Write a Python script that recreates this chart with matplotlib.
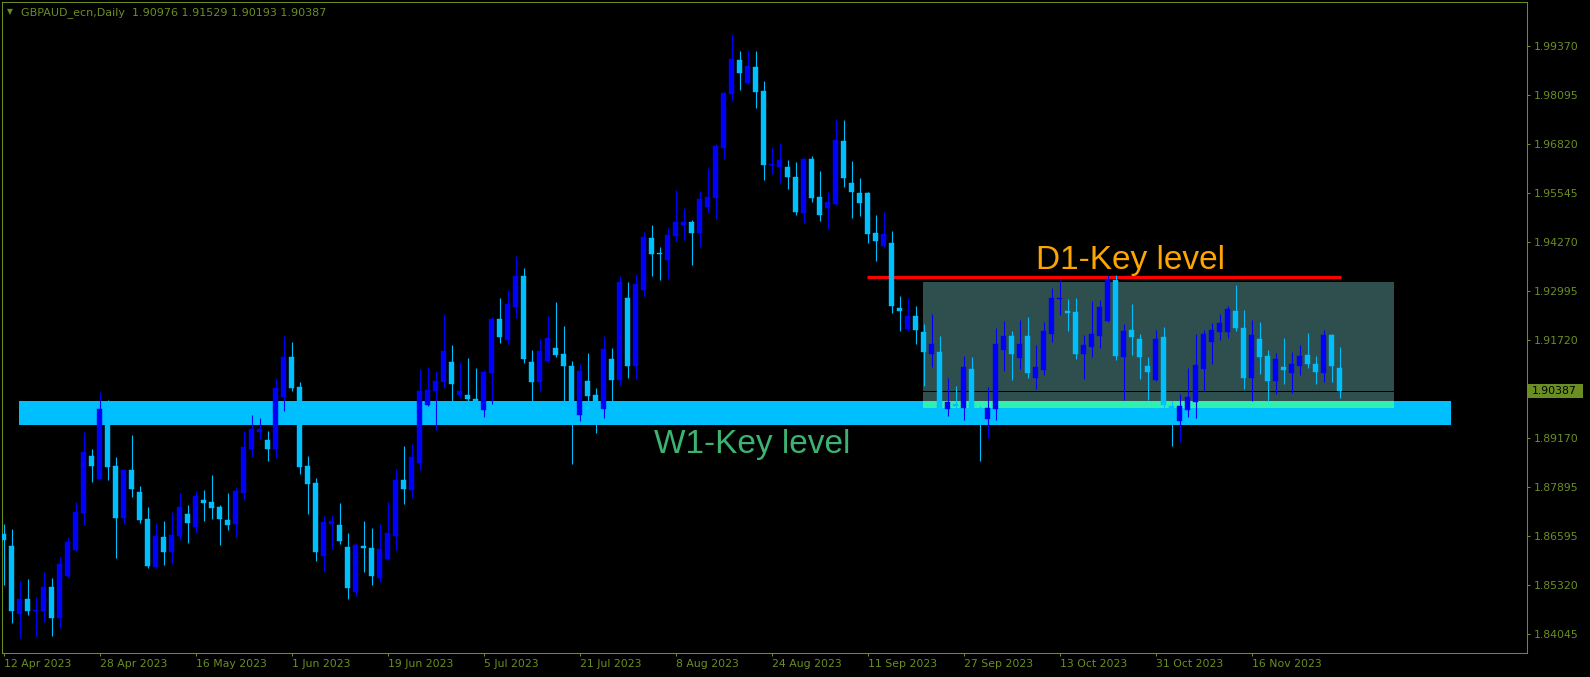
import matplotlib
matplotlib.use("Agg")
import matplotlib.pyplot as plt
from matplotlib.patches import Rectangle
import numpy as np

# ---------------- data (GBPAUD daily, 12 Apr 2023 .. 1 Dec 2023) ----------------
opens = [1.86659, 1.86346, 1.84574, 1.84965, 1.84653, 1.84653, 1.85278, 1.84470, 1.85565, 1.86242,
         1.87206, 1.88692, 1.88092, 1.89838, 1.88431, 1.87076, 1.88327, 1.87754, 1.87050, 1.85799,
         1.86581, 1.86190, 1.86607, 1.87180, 1.86841, 1.87545, 1.87493, 1.87363, 1.87024, 1.86920,
         1.87727, 1.88874, 1.89317, 1.89109, 1.88874, 1.90229, 1.91271, 1.90490, 1.88431, 1.87988,
         1.86086, 1.86920, 1.86894, 1.86320, 1.85148, 1.86346, 1.86294, 1.85513, 1.86008, 1.86607,
         1.88066, 1.87806, 1.88509, 1.90021, 1.90385, 1.90620, 1.91141, 1.90281, 1.90281, 1.90177,
         1.89890, 1.90854, 1.92262, 1.91714, 1.92574, 1.93382, 1.91141, 1.90620, 1.91167, 1.91506,
         1.91350, 1.91037, 1.89760, 1.90646, 1.90281, 1.89916, 1.91219, 1.90672, 1.92809, 1.91037,
         1.93017, 1.94372, 1.93981, 1.93799, 1.94424, 1.94711, 1.94789, 1.94503, 1.95180, 1.95415,
         1.96717, 1.98125, 1.99011, 1.98411, 1.98828, 1.98203, 1.96274, 1.96222, 1.96222, 1.95962,
         1.95024, 1.96431, 1.95441, 1.95154, 1.95258, 1.96900, 1.95805, 1.95545, 1.95545, 1.94503,
         1.94164, 1.94242, 1.92548, 1.92001, 1.92340, 1.91923, 1.91350, 1.91402, 1.89916, 1.90047,
         1.89942, 1.90959, 1.89890, 1.89656, 1.89916, 1.91454, 1.91819, 1.91245, 1.91819, 1.90724,
         1.90933, 1.91871, 1.92783, 1.92470, 1.92444, 1.91350, 1.91532, 1.91819, 1.92209, 1.93278,
         1.91271, 1.91975, 1.91740, 1.91037, 1.90672, 1.91793, 1.89995, 1.89604, 1.89890, 1.90099,
         1.90959, 1.91662, 1.91923, 1.91923, 1.92470, 1.92027, 1.90724, 1.91740, 1.91297, 1.90646,
         1.91011, 1.90854, 1.91037, 1.91323, 1.91089, 1.90854, 1.91845, 1.90976]
highs = [1.86920, 1.86789, 1.85434, 1.85486, 1.85017, 1.85669, 1.85513, 1.86060, 1.86581, 1.87493,
         1.89317, 1.88874, 1.90359, 1.90151, 1.88666, 1.88353, 1.89239, 1.87910, 1.87363, 1.86946,
         1.86998, 1.87232, 1.87727, 1.87415, 1.87780, 1.87806, 1.88196, 1.87415, 1.87727, 1.87884,
         1.89343, 1.89760, 1.89682, 1.89343, 1.90724, 1.91819, 1.91662, 1.90620, 1.88692, 1.88118,
         1.87128, 1.87154, 1.87467, 1.86685, 1.86425, 1.86998, 1.86815, 1.86920, 1.87493, 1.88353,
         1.88952, 1.89004, 1.90959, 1.91011, 1.90907, 1.92392, 1.91584, 1.91141, 1.91245, 1.90985,
         1.90933, 1.92314, 1.92809, 1.93017, 1.93903, 1.93591, 1.91454, 1.91740, 1.92340, 1.92705,
         1.92079, 1.91167, 1.91089, 1.91376, 1.90464, 1.91819, 1.91506, 1.93382, 1.93226, 1.93434,
         1.94529, 1.94711, 1.94138, 1.94633, 1.95623, 1.95154, 1.94841, 1.95597, 1.96196, 1.96822,
         1.98177, 1.99688, 1.99245, 1.99271, 1.99245, 1.98463, 1.96744, 1.96848, 1.96405, 1.96353,
         1.96457, 1.96509, 1.96118, 1.95571, 1.97473, 1.97447, 1.96379, 1.95936, 1.95571, 1.94972,
         1.95050, 1.94555, 1.92861, 1.92809, 1.92600, 1.92131, 1.92392, 1.91819, 1.90724, 1.90516,
         1.91297, 1.91271, 1.89995, 1.90490, 1.92027, 1.92209, 1.91949, 1.92235, 1.92314, 1.91584,
         1.92183, 1.93069, 1.93278, 1.92783, 1.92809, 1.91845, 1.92731, 1.92757, 1.93408, 1.93408,
         1.92131, 1.92652, 1.91871, 1.91271, 1.91975, 1.92053, 1.90125, 1.90307, 1.90985, 1.91871,
         1.91975, 1.92157, 1.92392, 1.92600, 1.93148, 1.92496, 1.92235, 1.92183, 1.91454, 1.91376,
         1.91766, 1.91402, 1.91584, 1.91897, 1.91297, 1.91975, 1.91871, 1.91529]
lows = [1.85330, 1.84340, 1.83949, 1.84548, 1.83975, 1.84366, 1.84001, 1.84210, 1.85539, 1.86216,
        1.86894, 1.88014, 1.88066, 1.88066, 1.86034, 1.86920, 1.87623, 1.86946, 1.85773, 1.85773,
        1.85851, 1.85877, 1.86503, 1.86425, 1.86685, 1.86998, 1.87050, 1.86372, 1.86763, 1.86581,
        1.87545, 1.88666, 1.89135, 1.88561, 1.88639, 1.89864, 1.90385, 1.88223, 1.87180, 1.85956,
        1.85669, 1.86268, 1.86399, 1.84965, 1.85043, 1.85669, 1.85330, 1.85408, 1.85982, 1.86242,
        1.87441, 1.87597, 1.88327, 1.89995, 1.89369, 1.90464, 1.90125, 1.90203, 1.90125, 1.90021,
        1.89708, 1.90047, 1.91636, 1.91610, 1.92288, 1.91115, 1.90125, 1.90385, 1.91141, 1.91271,
        1.90125, 1.88483, 1.89604, 1.90125, 1.89291, 1.89682, 1.90125, 1.90542, 1.90724, 1.90698,
        1.92861, 1.93382, 1.93278, 1.93304, 1.94294, 1.94320, 1.93669, 1.94138, 1.95024, 1.94867,
        1.96431, 1.97942, 1.98229, 1.98385, 1.97760, 1.95884, 1.96040, 1.95805, 1.95649, 1.94972,
        1.94763, 1.95310, 1.94815, 1.94607, 1.95232, 1.95701, 1.94893, 1.94946, 1.94242, 1.93773,
        1.94138, 1.92418, 1.91949, 1.91949, 1.91610, 1.90516, 1.91011, 1.89864, 1.89734, 1.89916,
        1.89630, 1.89838, 1.88561, 1.89161, 1.89630, 1.90907, 1.90672, 1.90959, 1.90724, 1.90437,
        1.90802, 1.91662, 1.92366, 1.91949, 1.91219, 1.90698, 1.91271, 1.91506, 1.92183, 1.91193,
        1.90151, 1.91323, 1.90698, 1.90151, 1.90646, 1.89942, 1.88952, 1.89056, 1.89708, 1.89682,
        1.90385, 1.91089, 1.91714, 1.91766, 1.91949, 1.90437, 1.90125, 1.90828, 1.90125, 1.90307,
        1.90568, 1.90333, 1.90802, 1.90985, 1.90568, 1.90620, 1.90620, 1.90193]
closes = [1.86503, 1.84653, 1.84965, 1.84653, 1.84679, 1.85278, 1.84470, 1.85877, 1.86451, 1.87232,
          1.88796, 1.88431, 1.89916, 1.88405, 1.87076, 1.88327, 1.87832, 1.87024, 1.85825, 1.86607,
          1.86190, 1.86633, 1.87363, 1.86946, 1.87649, 1.87467, 1.87337, 1.87050, 1.86894, 1.87780,
          1.88926, 1.89395, 1.89395, 1.88874, 1.90464, 1.91271, 1.90464, 1.88405, 1.87962, 1.86190,
          1.86972, 1.86998, 1.86477, 1.85252, 1.86372, 1.86294, 1.85565, 1.86268, 1.86685, 1.88066,
          1.87832, 1.88666, 1.90385, 1.90411, 1.90646, 1.91428, 1.90568, 1.90385, 1.90177, 1.90073,
          1.90880, 1.92262, 1.91793, 1.92652, 1.93382, 1.91219, 1.90620, 1.91428, 1.91766, 1.91323,
          1.91037, 1.89942, 1.90907, 1.90255, 1.90047, 1.91480, 1.90672, 1.93226, 1.91037, 1.93174,
          1.94398, 1.93955, 1.93955, 1.94450, 1.94789, 1.94789, 1.94503, 1.95389, 1.95441, 1.96770,
          1.98151, 1.99037, 1.98672, 1.98854, 1.98177, 1.96274, 1.96301, 1.96405, 1.95962, 1.95050,
          1.96431, 1.95415, 1.94972, 1.95310, 1.96926, 1.95936, 1.95571, 1.95284, 1.94476, 1.94294,
          1.94476, 1.92600, 1.92470, 1.92340, 1.91975, 1.91402, 1.91610, 1.89942, 1.90099, 1.89995,
          1.91011, 1.89890, 1.89682, 1.89942, 1.91610, 1.91819, 1.91350, 1.91610, 1.90854, 1.91011,
          1.91949, 1.92809, 1.92809, 1.92418, 1.91350, 1.91584, 1.91871, 1.92574, 1.93304, 1.91297,
          1.91949, 1.91793, 1.91271, 1.90880, 1.91740, 1.90021, 1.89942, 1.89995, 1.90229, 1.91063,
          1.91871, 1.91975, 1.92157, 1.92522, 1.92027, 1.90724, 1.91845, 1.91271, 1.90646, 1.91219,
          1.90933, 1.91089, 1.91297, 1.91089, 1.90880, 1.91845, 1.91037, 1.90387]

date_labels = ["12 Apr 2023", "28 Apr 2023", "16 May 2023", "1 Jun 2023", "19 Jun 2023",
               "5 Jul 2023", "21 Jul 2023", "8 Aug 2023", "24 Aug 2023", "11 Sep 2023",
               "27 Sep 2023", "13 Oct 2023", "31 Oct 2023", "16 Nov 2023"]
bars_per_label = 12
price_ticks = [1.99370, 1.98095, 1.96820, 1.95545, 1.94270, 1.92995, 1.91720,
               1.89170, 1.87895, 1.86595, 1.85320, 1.84045]
price_tick_labels = ["1.99370", "1.98095", "1.96820", "1.95545", "1.94270", "1.92995", "1.91720",
                     "1.89170", "1.87895", "1.86595", "1.85320", "1.84045"]
bid_price = 1.90387
header = "GBPAUD_ecn,Daily  1.90976 1.91529 1.90193 1.90387"

# chart objects (bar-index / price anchors)
w1_zone_bars = [1.93, 180.9]
w1_zone_prices = [1.89499, 1.90125]
range_box_bars = [114.9, 173.8]
range_box_prices = [1.89942, 1.93226]
d1_level_bars = [107.9, 167.2]
d1_level_price = 1.93348
d1_text_anchor = [129.05, 1.93564]
w1_text_anchor = [81.3, 1.88762]

# ---------------- styling ----------------
BG = "black"
FG = "#6B8E23"
BULL = "#0000FF"
BEAR = "#00BFFF"
RECT = "#2F4F4F"
OVERLAP = "#2FF0B0"

W, H = 1590, 677
fig = plt.figure(figsize=(W / 100, H / 100), dpi=100, facecolor=BG)
ax = fig.add_axes([2 / W, (H - 653) / H, (1526.7 - 2) / W, (653 - 2) / H])
ax.set_facecolor(BG)

o = np.array(opens); h = np.array(highs); l = np.array(lows); c = np.array(closes)
x = np.arange(len(o))
cols = np.where(c >= o, BULL, BEAR)

# zones
ax.add_patch(Rectangle((w1_zone_bars[0], w1_zone_prices[0]), w1_zone_bars[1] - w1_zone_bars[0],
                       w1_zone_prices[1] - w1_zone_prices[0], facecolor=BEAR, edgecolor="none",
                       zorder=1, antialiased=False))
ax.add_patch(Rectangle((range_box_bars[0], range_box_prices[0]), range_box_bars[1] - range_box_bars[0],
                       range_box_prices[1] - range_box_prices[0], facecolor=RECT, edgecolor="none",
                       zorder=1.1, antialiased=False))
ov_lo = max(w1_zone_prices[0], range_box_prices[0])
ov_hi = min(w1_zone_prices[1], range_box_prices[1])
ax.add_patch(Rectangle((range_box_bars[0], ov_lo), range_box_bars[1] - range_box_bars[0],
                       ov_hi - ov_lo, facecolor=OVERLAP, edgecolor="none", zorder=1.2,
                       antialiased=False))

# bid line (black, only visible over the box)
ax.axhline(bid_price, color="black", lw=0.75, zorder=2)

# D1 key level line
ax.hlines(d1_level_price, d1_level_bars[0], d1_level_bars[1], color="#FF0000", lw=2.3, zorder=2.5)

# candles
ax.vlines(x, l, h, colors=cols, lw=0.8, zorder=3)
bottom = np.minimum(o, c)
height = np.maximum(np.abs(c - o), 0.00028)
ax.bar(x, height, bottom=bottom, width=0.66, color=cols, edgecolor=cols, linewidth=0.3, zorder=4)

# labels
ax.text(d1_text_anchor[0], d1_text_anchor[1], "D1-Key level", color="#FFA500",
        fontsize=24, family="Liberation Sans", ha="left", va="baseline", zorder=5)
ax.text(w1_text_anchor[0], w1_text_anchor[1], "W1-Key level", color="#3CB371",
        fontsize=24, family="Liberation Sans", ha="left", va="baseline", zorder=5)

# axes
ax.set_xlim(-0.2, 190.39)
ax.set_ylim(1.835580, 2.005218)
for s in ax.spines.values():
    s.set_color(FG)
    s.set_linewidth(0.75)

ax.yaxis.tick_right()
ax.set_yticks(price_ticks)
ax.set_yticklabels(price_tick_labels)
ax.tick_params(axis="y", direction="out", length=2.2, width=0.75, colors=FG, pad=3,
               labelsize=7.8)
ax.set_xticks(np.arange(len(date_labels)) * bars_per_label)
ax.set_xticklabels(date_labels, ha="left")
ax.tick_params(axis="x", direction="out", length=2.2, width=0.75, colors=FG, pad=2,
               labelsize=7.8)

# current price box
fig.patches.append(Rectangle((1528 / W, (H - 397.7) / H), 55 / W, 13.4 / H,
                             transform=fig.transFigure, facecolor=FG, edgecolor="none"))
fig.text(1532 / W, (H - 391) / H, f"{bid_price:.5f}", color="black", fontsize=7.8,
         ha="left", va="center")

# header
fig.text(7 / W, 1 - 12 / H, "\u25BC", color=FG, fontsize=5.5, ha="left", va="center")
fig.text(20.7 / W, 1 - 12.5 / H, header, color=FG, fontsize=8, ha="left", va="center")

fig.savefig("out.png", dpi=100, facecolor=BG)
